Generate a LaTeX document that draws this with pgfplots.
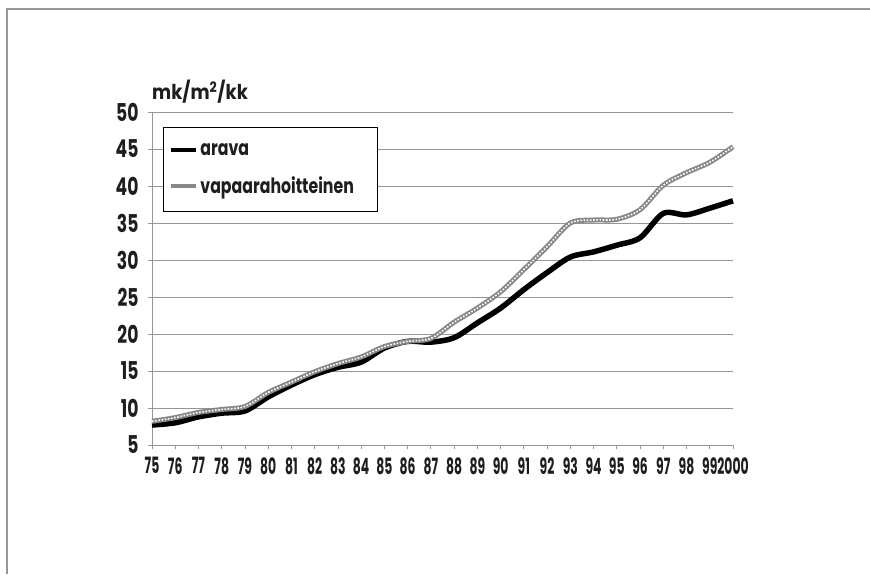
\documentclass[border=0pt]{standalone}
\usepackage{fontspec}
\setmainfont{Poppins}
\newfontfamily\yfont[FakeStretch=0.7]{Poppins}
\newfontfamily\xfont[FakeStretch=0.55]{Poppins}
\newfontfamily\lfont[FakeStretch=0.75]{Poppins}
\newfontfamily\tfont[FakeStretch=0.88]{Poppins}
\usepackage{pgfplots}
\usepackage{pgfplotstable}
\pgfplotsset{compat=1.18}
\definecolor{txt}{RGB}{30,30,30}
\definecolor{gridc}{RGB}{150,150,150}
\definecolor{vapaa}{RGB}{135,135,135}
\pgfplotstableread{
year arava vapaa
75 7.7 8.2
76 8.0 8.7
77 8.8 9.4
78 9.3 9.8
79 9.6 10.2
80 11.5 12.1
81 13.1 13.5
82 14.5 14.9
83 15.5 16.0
84 16.2 16.9
85 18.1 18.3
86 19.0 19.0
87 18.9 19.4
88 19.5 21.6
89 21.5 23.5
90 23.5 25.7
91 26.0 28.7
92 28.3 31.8
93 30.4 35.0
94 31.1 35.4
95 32.0 35.5
96 33.0 36.8
97 36.3 40.1
98 36.1 41.8
99 37.0 43.2
100 38.0 45.3
}\datatable
\begin{document}
\begin{tikzpicture}[x=1pt,y=1pt]
\useasboundingbox (0,0) rectangle (870,574);
\draw[gridc, line width=1.2pt] (7,0) -- (7,565) -- (870,565);
\begin{axis}[
  at={(152pt,129pt)}, anchor=south west,
  scale only axis, width=581pt, height=333pt,
  xmin=75, xmax=100, ymin=5, ymax=50,
  xtick={75,...,100},
  xticklabels={75,76,77,78,79,80,81,82,83,84,85,86,87,88,89,90,91,92,93,94,95,96,97,98,99,2000},
  ytick={5,10,...,50},
  /pgf/number format/assume math mode=true,
  axis x line*=bottom, axis y line*=left,
  axis line style={gridc, line width=0.8pt},
  every outer x axis line/.append style={-}, every outer y axis line/.append style={-},
  ymajorgrids, grid style={gridc, line width=0.8pt},
  tick style={gridc, line width=0.8pt},
  tick align=outside, major tick length=4pt,
  xticklabel style={font=\xfont\bfseries\fontsize{22.5}{22.5}\selectfont, text=txt, yshift=-5pt},
  yticklabel style={font=\yfont\bfseries\fontsize{24.5}{24.5}\selectfont, text=txt, xshift=-6pt},
  legend style={at={(axis description cs:0.019,0.955)}, anchor=north west,
    draw=black, line width=0.8pt, font=\lfont\bfseries\fontsize{21}{21}\selectfont, text=txt,
    inner xsep=6pt, inner ysep=14pt, row sep=16pt},
  legend cell align=left,
  legend image code/.code={\draw[#1, line width=4pt, dash pattern=] (0pt,0pt) -- (25pt,0pt);},
  clip=false,
]
\addplot[black, line width=5.5pt, smooth] table[x=year, y=arava] {\datatable};
\addlegendentry{arava}
\addplot[vapaa, line width=5pt, smooth] table[x=year, y=vapaa] {\datatable};
\addlegendentry{vapaarahoitteinen\hspace*{16pt}}
\addplot[white, line width=1.6pt, smooth, dash pattern=on 1.6pt off 1.6pt, forget plot] table[x=year, y=vapaa] {\datatable};
\end{axis}
\node[anchor=south west, inner sep=0pt, text=txt, font=\tfont\bfseries\fontsize{20.5}{20.5}\selectfont] at (152,470) {mk/m\textsuperscript{2}/kk};
\end{tikzpicture}
\end{document}
